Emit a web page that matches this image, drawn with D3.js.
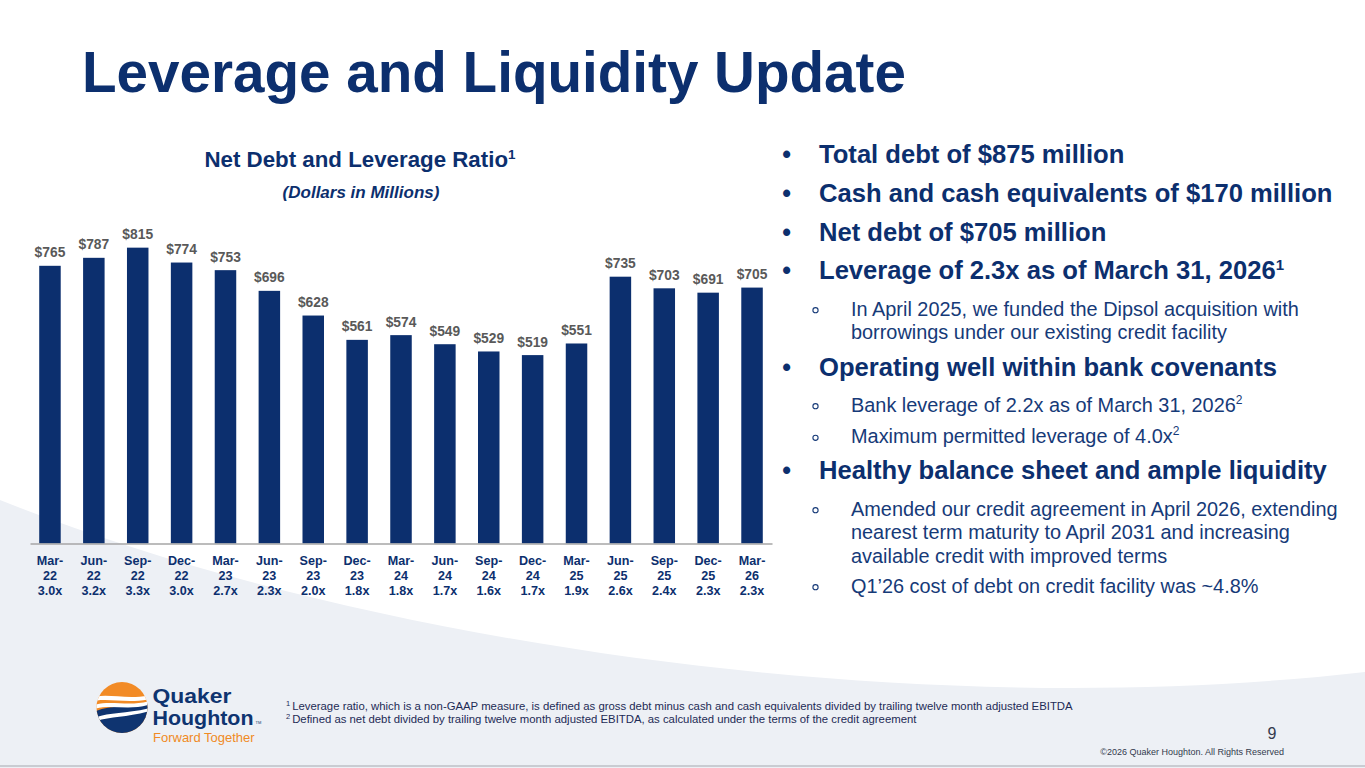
<!DOCTYPE html>
<html>
<head>
<meta charset="utf-8">
<script src="https://cdn.jsdelivr.net/npm/d3@7"></script>
<style>
  html, body { margin: 0; padding: 0; background: #ffffff; }
  svg { display: block; font-family: "Liberation Sans", Arial, sans-serif; }
</style>
</head>
<body>
<svg id="slide" width="1365" height="768"></svg>
<script>
// ---------- data ----------
const periods = ["Mar-22","Jun-22","Sep-22","Dec-22","Mar-23","Jun-23","Sep-23","Dec-23","Mar-24","Jun-24","Sep-24","Dec-24","Mar-25","Jun-25","Sep-25","Dec-25","Mar-26"];
const netDebt = [765,787,815,774,753,696,628,561,574,549,529,519,551,735,703,691,705];
const leverage = ["3.0x","3.2x","3.3x","3.0x","2.7x","2.3x","2.0x","1.8x","1.8x","1.7x","1.6x","1.7x","1.9x","2.6x","2.4x","2.3x","2.3x"];

const mainBullets = [
  {text: "Total debt of $875 million", sup: ""},
  {text: "Cash and cash equivalents of $170 million", sup: ""},
  {text: "Net debt of $705 million", sup: ""},
  {text: "Leverage of 2.3x as of March 31, 2026", sup: "1"}
];
const subBullet1 = ["In April 2025, we funded the Dipsol acquisition with", "borrowings under our existing credit facility"];
const bullet5 = "Operating well within bank covenants";
const subBullets2 = [
  {text: "Bank leverage of 2.2x as of March 31, 2026", sup: "2"},
  {text: "Maximum permitted leverage of 4.0x", sup: "2"}
];
const bullet6 = "Healthy balance sheet and ample liquidity";
const subBullet3 = ["Amended our credit agreement in April 2026, extending", "nearest term maturity to April 2031 and increasing", "available credit with improved terms"];
const subBullet4 = "Q1\u201926 cost of debt on credit facility was ~4.8%";
const footnotes = [
  {n: "1", text: "Leverage ratio, which is a non-GAAP measure, is defined as gross debt minus cash and cash equivalents divided by trailing twelve month adjusted EBITDA"},
  {n: "2", text: "Defined as net debt divided by trailing twelve month adjusted EBITDA, as calculated under the terms of the credit agreement"}
];

// ---------- styles ----------
const NAVY = "#0c2f6e";
const NAVY2 = "#163a78";
const GRAY = "#595959";

const svg = d3.select("#slide");

// ---------- background ----------
svg.append("rect").attr("width", 1365).attr("height", 768).attr("fill", "#ffffff");
svg.append("path")
  .attr("d", "M0,500 C350,640 900,725 1365,672 L1365,768 L0,768 Z")
  .attr("fill", "#edf0f5");
svg.append("line").attr("x1", 0).attr("x2", 1365).attr("y1", 766).attr("y2", 766)
  .attr("stroke", "#c9ccd2").attr("stroke-width", 2);

// ---------- title ----------
svg.append("text").attr("x", 82).attr("y", 92)
  .attr("font-size", 56.6).attr("font-weight", "bold").attr("fill", NAVY)
  .text("Leverage and Liquidity Update");

// ---------- chart titles ----------
const ct = svg.append("text").attr("x", 360).attr("y", 167).attr("text-anchor", "middle")
  .attr("font-size", 22.3).attr("font-weight", "bold").attr("fill", NAVY);
ct.append("tspan").text("Net Debt and Leverage Ratio");
ct.append("tspan").attr("font-size", 13.5).attr("dy", -8).text("1");

svg.append("text").attr("x", 361).attr("y", 198).attr("text-anchor", "middle")
  .attr("font-size", 17).attr("font-weight", "bold").attr("font-style", "italic").attr("fill", NAVY)
  .text("(Dollars in Millions)");

// ---------- chart ----------
const x = d3.scaleBand().domain(periods).range([30, 772]).paddingInner(0.51).paddingOuter(0.21);
const y = d3.scaleLinear().domain([0, 1000]).range([543.5, 180.5]);

const g = svg.append("g");
g.selectAll("rect.bar").data(periods).join("rect")
  .attr("class", "bar")
  .attr("x", d => x(d))
  .attr("width", x.bandwidth())
  .attr("y", (d, i) => y(netDebt[i]))
  .attr("height", (d, i) => y(0) - y(netDebt[i]))
  .attr("fill", NAVY);

g.selectAll("text.val").data(periods).join("text")
  .attr("class", "val")
  .attr("x", d => x(d) + x.bandwidth() / 2)
  .attr("y", (d, i) => y(netDebt[i]) - 8.5)
  .attr("text-anchor", "middle")
  .attr("font-size", 13.8).attr("font-weight", "bold").attr("fill", GRAY)
  .text((d, i) => "$" + netDebt[i]);

const axis = d3.axisBottom(x).tickSize(0).tickSizeOuter(0).tickFormat("");
const ax = svg.append("g").attr("transform", `translate(0,${y(0)})`).call(axis);
ax.select(".domain").attr("stroke", "#a6a6a6").attr("stroke-width", 1.5);
ax.selectAll(".tick text").remove();
ax.selectAll(".tick").each(function(d, i) {
  const parts = d.split("-");
  const t = d3.select(this).append("text")
    .attr("text-anchor", "middle").attr("font-size", 12.6).attr("font-weight", "bold")
    .attr("fill", NAVY).attr("font-family", "Liberation Sans, Arial, sans-serif");
  t.append("tspan").attr("x", 0).attr("y", 21.5).text(parts[0] + "-");
  t.append("tspan").attr("x", 0).attr("y", 36.5).text(parts[1]);
  t.append("tspan").attr("x", 0).attr("y", 51).text(leverage[i]);
});

// ---------- bullets ----------
const BX = 786.7, TX = 819, SBX = 815.5, STX = 851;
function mainBullet(txt, sup, yy) {
  svg.append("text").attr("x", BX).attr("y", yy).attr("text-anchor", "middle")
    .attr("font-size", 25).attr("font-weight", "bold").attr("fill", NAVY).text("\u2022");
  const t = svg.append("text").attr("x", TX).attr("y", yy)
    .attr("font-size", 25.6).attr("font-weight", "bold").attr("fill", NAVY);
  t.append("tspan").text(txt);
  if (sup) t.append("tspan").attr("font-size", 15).attr("dy", -9).text(sup);
}
function subBullet(lines, sup, yy, lh) {
  svg.append("circle").attr("cx", SBX).attr("cy", yy - 5.5).attr("r", 2.6)
    .attr("fill", "none").attr("stroke", NAVY2).attr("stroke-width", 1.1);
  lines.forEach((ln, k) => {
    const t = svg.append("text").attr("x", STX).attr("y", yy + k * lh)
      .attr("font-size", 19.9).attr("fill", NAVY2);
    t.append("tspan").text(ln);
    if (sup && k === lines.length - 1) t.append("tspan").attr("font-size", 12).attr("dy", -8).text(sup);
  });
}
const mainY = [163.3, 202.3, 241, 279.3];
mainBullets.forEach((b, i) => mainBullet(b.text, b.sup, mainY[i]));
subBullet(subBullet1, "", 315.7, 23.5);
mainBullet(bullet5, "", 376);
subBullet([subBullets2[0].text], subBullets2[0].sup, 411.7, 23.5);
subBullet([subBullets2[1].text], subBullets2[1].sup, 443.3, 23.5);
mainBullet(bullet6, "", 479.3);
subBullet(subBullet3, "", 515.7, 23.4);
subBullet([subBullet4], "", 592.7, 23.5);

// ---------- footnotes ----------
footnotes.forEach((f, i) => {
  const t = svg.append("text").attr("x", 286).attr("y", 710 + i * 13.3)
    .attr("font-size", 11.35).attr("fill", "#1d2b55");
  t.append("tspan").attr("font-size", 7.5).attr("dy", -4).text(f.n);
  t.append("tspan").attr("dy", 4).attr("dx", 2).text(f.text);
});

svg.append("text").attr("x", 1272).attr("y", 739).attr("text-anchor", "middle")
  .attr("font-size", 16).attr("fill", "#333a4d").text("9");
svg.append("text").attr("x", 1284).attr("y", 755).attr("text-anchor", "end")
  .attr("font-size", 9).attr("fill", "#333a4d").text("\u00a92026 Quaker Houghton. All Rights Reserved");

// ---------- logo ----------
const logo = svg.append("g");
const defs = svg.append("defs");
defs.append("clipPath").attr("id", "logoClip").append("circle")
  .attr("cx", 122).attr("cy", 707.5).attr("r", 25.5);
const lg = logo.append("g").attr("clip-path", "url(#logoClip)");
lg.append("rect").attr("x", 96).attr("y", 681).attr("width", 52).attr("height", 54).attr("fill", "#f28b26");
lg.append("path").attr("d", "M94,712 C110,704 130,708 150,703 L150,736 L94,736 Z").attr("fill", "#0f3470");
lg.append("path").attr("d", "M94,697 C108,693 128,700 150,695 L150,699 C128,704 110,698 94,701 Z").attr("fill", "#ffffff");
lg.append("path").attr("d", "M94,705 C110,700 130,707 150,701 L150,704.5 C130,711 110,704 94,709 Z").attr("fill", "#ffffff");
lg.append("path").attr("d", "M94,718 C108,712 126,714 150,708 L150,711 C126,718 110,716 94,722 Z").attr("fill", "#ffffff");

logo.append("text").attr("x", 152.5).attr("y", 703).attr("font-size", 20).attr("font-weight", "bold")
  .attr("fill", "#0f3470").attr("textLength", 79).attr("lengthAdjust", "spacingAndGlyphs").text("Quaker");
logo.append("text").attr("x", 152.5).attr("y", 725.3).attr("font-size", 20).attr("font-weight", "bold")
  .attr("fill", "#0f3470").attr("textLength", 101).attr("lengthAdjust", "spacingAndGlyphs").text("Houghton");
logo.append("text").attr("x", 255.5).attr("y", 724).attr("font-size", 4).attr("fill", "#0f3470").text("TM");
logo.append("text").attr("x", 153).attr("y", 741.6).attr("font-size", 13).attr("fill", "#f08a24").text("Forward Together");
</script>
</body>
</html>
